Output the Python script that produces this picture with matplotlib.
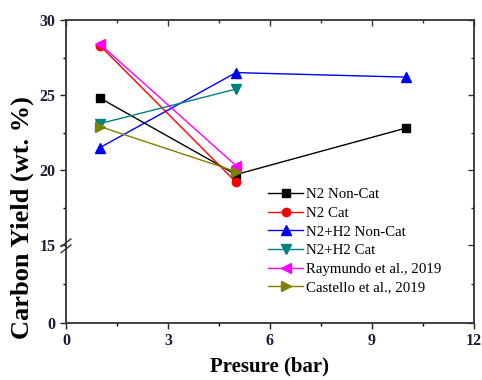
import matplotlib.pyplot as plt
import numpy as np

plt.rcParams['font.family'] = ['Liberation Serif', 'DejaVu Serif']

x_n2_noncat = [1, 5, 10]
y_n2_noncat = [24.8, 19.7, 22.8]
x_n2_cat = [1, 5]
y_n2_cat = [28.3, 19.2]
x_h2_noncat = [1, 5, 10]
y_h2_noncat = [21.5, 26.5, 26.2]
x_h2_cat = [1, 5]
y_h2_cat = [23.1, 25.4]
x_raymundo = [1, 5]
y_raymundo = [28.4, 20.3]
x_castello = [1, 5]
y_castello = [22.9, 19.9]

y_major = [0, 15, 20, 25, 30]
y_minor = [7.5, 17.5, 22.5, 27.5]
x_major = [0, 3, 6, 9, 12]

# broken axis: 0-15 squeezed into a short strip at the bottom
LOW = 5.2


def fwd(y):
    y = np.asarray(y, dtype=float)
    return np.where(y < 15, y * LOW / 15, LOW + (y - 15))


def inv(t):
    t = np.asarray(t, dtype=float)
    return np.where(t < LOW, t * 15 / LOW, t - LOW + 15)


fig = plt.figure(figsize=(4.82, 3.8), dpi=100)
ax = fig.add_axes([0.137, 0.15, 0.846, 0.797])
ax.set_yscale('function', functions=(fwd, inv))

ms = 7
lw = 1
ax.plot(x_n2_noncat, y_n2_noncat, '-s', color='black', ms=ms - 1, lw=lw, label='N2 Non-Cat')
ax.plot(x_n2_cat, y_n2_cat, '-o', color='#ff0000', ms=ms - 1, lw=lw, label='N2 Cat')
ax.plot(x_h2_noncat, y_h2_noncat, '-^', color='#0000ff', ms=ms, lw=lw, label='N2+H2 Non-Cat')
ax.plot(x_h2_cat, y_h2_cat, '-v', color='#008080', ms=ms, lw=lw, label='N2+H2 Cat')
ax.plot(x_raymundo, y_raymundo, '-<', color='#ff00ff', ms=ms, lw=lw, label='Raymundo et al., 2019')
ax.plot(x_castello, y_castello, '->', color='#808000', ms=ms, lw=lw, label='Castello et al., 2019')

ax.set_xlim(0, 12)
ax.set_ylim(0, 30)
ax.set_xticks(x_major)
ax.set_xticks(np.arange(1.5, 12, 3), minor=True)
ax.set_yticks(y_major)
ax.set_yticks(y_minor, minor=True)
ax.set_yticklabels([str(v) for v in y_major])
for lab in ax.get_xticklabels() + ax.get_yticklabels():
    lab.set_fontweight('bold')
ax.tick_params(which='major', direction='out', length=4, width=1, labelsize=11.5, colors='#222222',
               labelcolor='#1a1a3a')
ax.tick_params(which='minor', direction='out', length=2.5, width=1)
for s in ax.spines.values():
    s.set_linewidth(1.3)
    s.set_color('#333333')

# mirrored inward ticks on top/right
axr = ax.twinx()
axr.set_yscale('function', functions=(fwd, inv))
axr.set_ylim(0, 30)
axr.set_yticks(y_major)
axr.set_yticks(y_minor, minor=True)
axr.tick_params(which='both', direction='in', labelright=False, width=1, colors='#333333')
axr.tick_params(which='major', length=4)
axr.tick_params(which='minor', length=2.5)
axt = ax.twiny()
axt.set_xlim(0, 12)
axt.set_xticks(x_major)
axt.set_xticks(np.arange(1.5, 12, 3), minor=True)
axt.tick_params(which='both', direction='in', labeltop=False, width=1, colors='#333333')
axt.tick_params(which='major', length=4)
axt.tick_params(which='minor', length=2.5)
for a in (axr, axt):
    for s in a.spines.values():
        s.set_visible(False)

# break marks on the left spine at 15
yb = ax.transAxes.inverted().transform(ax.transData.transform((0, 15)))[1]
ax.plot([-0.012, 0.012], [yb - 0.005, yb + 0.02], transform=ax.transAxes, color='#333333',
        lw=1, clip_on=False)
ax.plot([-0.012, 0.012], [yb - 0.025, yb + 0.0], transform=ax.transAxes, color='#333333',
        lw=1, clip_on=False)

ax.set_xlabel('Presure (bar)', fontsize=15, fontweight='bold', labelpad=5)
ax.set_ylabel('Carbon Yield (wt. %)', fontsize=19, fontweight='bold')
ax.yaxis.set_label_coords(-0.078, 0.347)

ax.legend(loc='lower right', bbox_to_anchor=(0.945, 0.06), frameon=False, fontsize=10.7,
          handlelength=2.4, labelspacing=0.35, handletextpad=0.15, borderpad=0.2)

fig.savefig('out.png', dpi=100)
